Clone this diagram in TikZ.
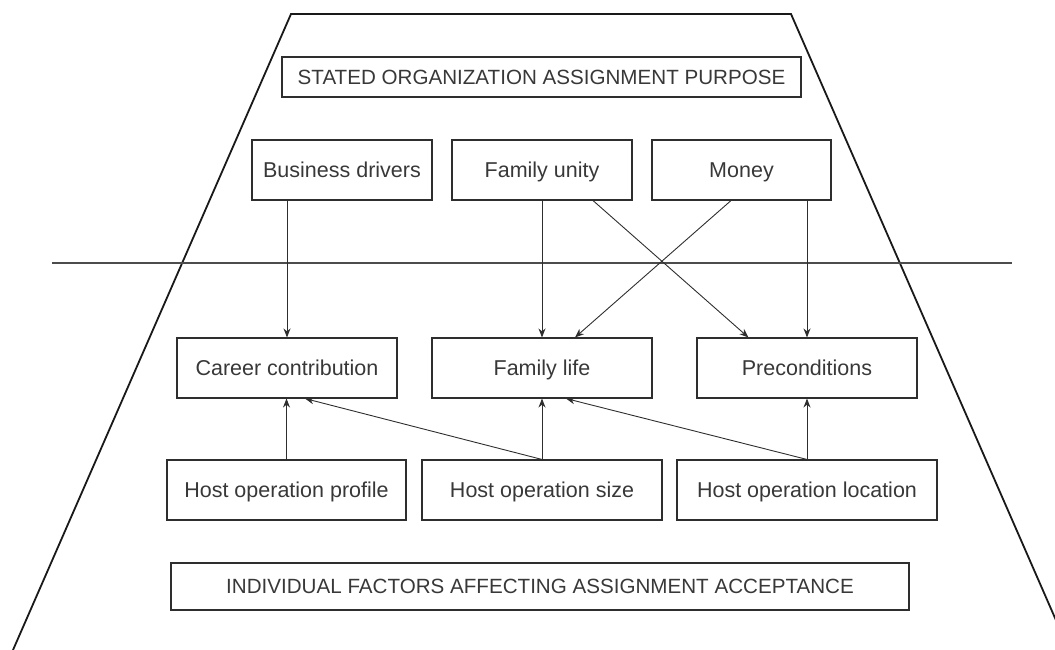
\documentclass[tikz,border=0pt]{standalone}
\usepackage{fontspec}
\setmainfont{Liberation Sans}
\usetikzlibrary{arrows.meta}
\definecolor{ink}{HTML}{2E2E2E}
\definecolor{txt}{HTML}{383838}
\tikzset{
  box/.style={draw=ink, line width=1.1pt, inner sep=0pt, text=txt, text height=15pt, text depth=0pt, font=\fontsize{21.5}{25}\selectfont},
  capbox/.style={box, font=\fontsize{20.6}{24}\selectfont, text height=14.5pt},
  arr/.style={draw=ink, line width=0.9pt, -{Stealth[length=9pt,width=7pt]}},
  frame/.style={draw=black!90, line width=1.8pt},
  divider/.style={draw=black!70, line width=1.4pt}
}
\begin{document}
\begin{tikzpicture}[x=1pt,y=-1pt]
\useasboundingbox (0,0) rectangle (1055,650);
\clip (0,0) rectangle (1055,650);
% frame
\draw[frame] (13,650) -- (291,14) -- (791,14) -- (1069,650);
\draw[divider] (52,263) -- (1012,263);
% title boxes
\node[capbox, minimum width=519pt, minimum height=40pt] (top) at (541.5,77) {STATED ORGANIZATION ASSIGNMENT PURPOSE};
\node[capbox, minimum width=738pt, minimum height=47pt] (bot) at (540,586.5) {INDIVIDUAL FACTORS AFFECTING ASSIGNMENT ACCEPTANCE};
% top row
\node[box, minimum width=180pt, minimum height=60pt] (bd) at (342,170) {Business drivers};
\node[box, minimum width=180pt, minimum height=60pt] (fu) at (542,170) {Family unity};
\node[box, minimum width=179pt, minimum height=60pt] (mo) at (741.5,170) {Money};
% middle row
\node[box, minimum width=220pt, minimum height=60pt] (car) at (287,368) {Career contribution};
\node[box, minimum width=220pt, minimum height=60pt] (fl) at (542,368) {Family life};
\node[box, minimum width=220pt, minimum height=60pt] (pre) at (807,368) {Preconditions};
% host row
\node[box, minimum width=239pt, minimum height=60pt] (pr) at (286.5,490) {Host operation profile};
\node[box, minimum width=240pt, minimum height=60pt] (sz) at (542,490) {Host operation size};
\node[box, minimum width=260pt, minimum height=60pt] (lo) at (807,490) {Host operation location};
% arrows from top row
\draw[arr] (car.north |- bd.south) -- (car.north);
\draw[arr] (fl.north |- fu.south) -- (fl.north);
\draw[arr] ([xshift=51pt]fu.south) -- ([xshift=52pt]pre.north west);
\draw[arr] ([xshift=-10.5pt]mo.south) -- ([xshift=33pt]fl.north);
\draw[arr] (pre.north |- mo.south) -- (pre.north);
% arrows from host row
\draw[arr] (pr.north) -- (pr.north |- car.south);
\draw[arr] (sz.north) -- (fl.south);
\draw[arr] (sz.north) -- ([xshift=18pt]car.south);
\draw[arr] (lo.north) -- (pre.south);
\draw[arr] (lo.north) -- ([xshift=24pt]fl.south);
\end{tikzpicture}
\end{document}
